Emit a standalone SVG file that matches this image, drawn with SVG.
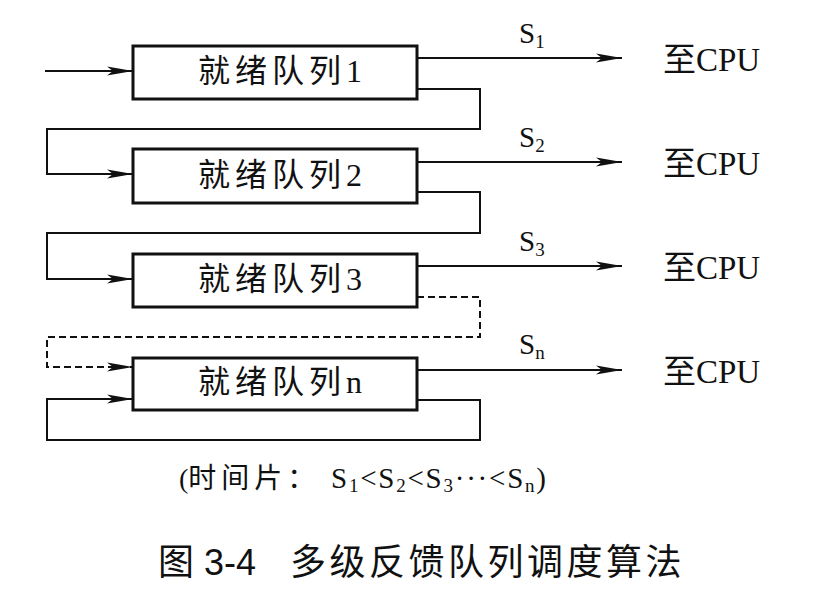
<svg xmlns="http://www.w3.org/2000/svg" width="823" height="595" viewBox="0 0 823 595">
<defs>
<marker id="arr" markerUnits="userSpaceOnUse" markerWidth="28" markerHeight="10" refX="26" refY="5" orient="auto">
<path d="M0,0.5 L26,5 L0,9.5 L6,5 z" fill="#111"/>
</marker>
<style>
.box{fill:#fff;stroke:#111;stroke-width:3}
.ln{fill:none;stroke:#111;stroke-width:2}
.dash{stroke-dasharray:7 4}
.lbl{font-family:"Liberation Serif","Noto Sans CJK SC",serif;font-size:32px;fill:#111;letter-spacing:5px}
.s{font-family:"Liberation Serif",serif;font-size:29px;fill:#111}
.sub{font-size:19px}
.cpu{font-family:"Liberation Serif","Noto Sans CJK SC",serif;font-size:33px;fill:#111}
.cap{font-family:"Liberation Serif","Noto Sans CJK SC",serif;fill:#111}
.capsans{font-family:"Liberation Sans","Noto Sans CJK SC",sans-serif;fill:#111}
</style>
</defs>
<rect width="823" height="595" fill="#fff"/>
<g id="connectors">
<path class="ln" d="M45,71 H133" marker-end="url(#arr)"/>
<path class="ln" d="M417,89 H480 V129 H47 V174 H133" marker-end="url(#arr)"/>
<path class="ln" d="M417,192 H480 V233 H47 V279 H133" marker-end="url(#arr)"/>
<path class="ln dash" d="M417,297 H480 V337 H47 V367 H133" marker-end="url(#arr)"/>
<path class="ln" d="M417,400 H480 V440 H47 V399 H133" marker-end="url(#arr)"/>
<path class="ln" d="M417,58 H622" marker-end="url(#arr)"/>
<path class="ln" d="M417,162 H622" marker-end="url(#arr)"/>
<path class="ln" d="M417,266 H622" marker-end="url(#arr)"/>
<path class="ln" d="M417,370 H622" marker-end="url(#arr)"/>
<text class="s" x="519" y="43">S<tspan class="sub" dy="5">1</tspan></text>
<text class="s" x="519" y="147">S<tspan class="sub" dy="5">2</tspan></text>
<text class="s" x="519" y="251">S<tspan class="sub" dy="5">3</tspan></text>
<text class="s" x="519" y="354">S<tspan class="sub" dy="5">n</tspan></text>
</g>
<g id="q1"><rect class="box" x="133" y="46" width="284" height="53"/><text class="lbl" x="198" y="82">就绪队列1</text></g>
<g id="q2"><rect class="box" x="133" y="149" width="284" height="54"/><text class="lbl" x="198" y="186">就绪队列2</text></g>
<g id="q3"><rect class="box" x="133" y="254" width="284" height="53"/><text class="lbl" x="198" y="290">就绪队列3</text></g>
<g id="qn"><rect class="box" x="133" y="358" width="284" height="52"/><text class="lbl" x="198" y="393">就绪队列n</text></g>
<g id="cpu1"><text class="cpu" x="663" y="71">至CPU</text></g>
<g id="cpu2"><text class="cpu" x="663" y="175">至CPU</text></g>
<g id="cpu3"><text class="cpu" x="663" y="279">至CPU</text></g>
<g id="cpun"><text class="cpu" x="663" y="383">至CPU</text></g>
<g id="caption">
<text class="cap" x="179" y="488" font-size="28">(<tspan letter-spacing="5">时间片：</tspan></text>
<text class="cap" x="331" y="488" font-size="29" textLength="215" lengthAdjust="spacing">S<tspan font-size="19" dy="4">1</tspan><tspan dy="-4">&lt;S</tspan><tspan font-size="19" dy="4">2</tspan><tspan dy="-4">&lt;S</tspan><tspan font-size="19" dy="4">3</tspan><tspan dy="-4">···&lt;S</tspan><tspan font-size="19" dy="4">n</tspan><tspan dy="-4">)</tspan></text>
<text class="capsans" x="158" y="575" font-size="36">图 3-4</text>
<text class="capsans" x="290" y="575" font-size="36" letter-spacing="3.5">多级反馈队列调度算法</text>
</g>
</svg>
